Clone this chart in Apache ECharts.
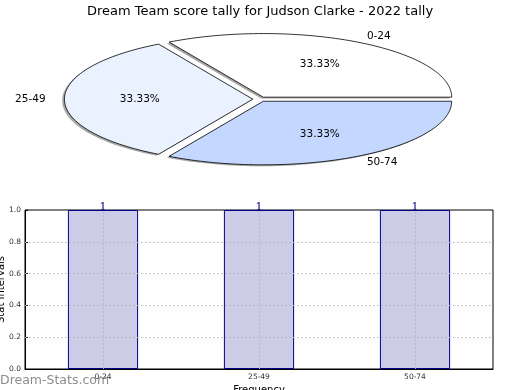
<!DOCTYPE html>
<html>
<head>
<meta charset="utf-8">
<script src="https://cdn.jsdelivr.net/npm/echarts@6/dist/echarts.min.js"></script>
<style>html,body{margin:0;padding:0;background:#fff}#c{width:520px;height:390px}</style>
</head>
<body>
<div id="c"></div>
<script>
const title = 'Dream Team score tally for Judson Clarke - 2022 tally';
const categories = ['0-24', '25-49', '50-74'];
const counts = [1, 1, 1];
const sliceColors = ['#ffffff', '#ebf2ff', '#c4d8ff'];
const yTicks = [0.2, 0.4, 0.6, 0.8];
const yAxisName = 'Stat Intervals';
const xAxisName = 'Frequency';
const watermark = 'Dream-Stats.com';

const EXPLODE = 0.037;
const FONT = 'DejaVu Sans';
const total = counts.reduce((a, b) => a + b, 0);

function sliceGeom(i) {
  let before = 0;
  for (let k = 0; k < i; k++) before += counts[k];
  const a0 = before / total * Math.PI * 2;
  const a1 = (before + counts[i]) / total * Math.PI * 2;
  const mid = (a0 + a1) / 2;
  return { a0, a1, mid, ox: EXPLODE * Math.cos(mid), oy: EXPLODE * Math.sin(mid) };
}

function wedgePoints(api, g, dx, dy) {
  const pts = [api.coord([g.ox + dx, g.oy + dy])];
  const steps = 80;
  for (let s = 0; s <= steps; s++) {
    const t = g.a0 + (g.a1 - g.a0) * s / steps;
    pts.push(api.coord([g.ox + dx + Math.cos(t), g.oy + dy + Math.sin(t)]));
  }
  return pts;
}

const pieData = categories.map((c, i) => [i, counts[i]]);

const chart = echarts.init(document.getElementById('c'), null, { renderer: 'canvas' });
chart.setOption({
  animation: false,
  backgroundColor: '#ffffff',
  title: {
    text: title, left: 'center', top: 0,
    textStyle: { fontFamily: FONT, fontSize: 13, fontWeight: 'normal', color: '#000' }
  },
  grid: [
    { left: 71.4, top: 35.6, width: 376.8, height: 127.2, show: false, outerBoundsMode: 'none', containLabel: false },
    { left: 25, right: 27, top: 210, bottom: 21, show: true, borderColor: '#000', borderWidth: 1,
      backgroundColor: 'transparent', outerBoundsMode: 'none', containLabel: false }
  ],
  xAxis: [
    { gridIndex: 0, type: 'value', min: -1, max: 1, show: false },
    {
      gridIndex: 1, type: 'category', data: categories, boundaryGap: true,
      axisLine: { show: true, lineStyle: { color: '#000', width: 1 } },
      axisTick: { show: false },
      splitLine: { show: false },
      axisLabel: { fontFamily: FONT, fontSize: 7.5, color: '#333', margin: 4 },
      name: xAxisName, nameLocation: 'middle', nameGap: 16.5, nameMoveOverlap: false,
      nameTextStyle: { fontFamily: FONT, fontSize: 10, color: '#000' }
    }
  ],
  yAxis: [
    { gridIndex: 0, type: 'value', min: -1, max: 1, show: false },
    {
      gridIndex: 1, type: 'value', min: 0, max: 1, interval: 0.2,
      axisLine: { show: true, lineStyle: { color: '#000', width: 1 } },
      axisTick: { show: true, inside: true, length: 3, lineStyle: { color: '#000' } },
      splitLine: { show: false },
      axisLabel: { fontFamily: FONT, fontSize: 7.5, color: '#333', margin: 4, formatter: v => v.toFixed(1) },
      name: yAxisName, nameLocation: 'middle', nameGap: 19, nameMoveOverlap: false,
      nameTextStyle: { fontFamily: FONT, fontSize: 10, color: '#000' }
    }
  ],
  graphic: [{
    type: 'text', left: 0, top: 374, z: 100,
    style: { text: watermark, fontFamily: FONT, fontSize: 12.5, fill: 'rgba(120,120,120,0.85)' }
  }],
  series: [
    {
      type: 'custom', xAxisIndex: 0, yAxisIndex: 0, data: pieData, clip: false, z: 1,
      renderItem: function (params, api) {
        const g = sliceGeom(params.dataIndex);
        return {
          type: 'polygon',
          shape: { points: wedgePoints(api, g, -0.012, -0.022) },
          style: { fill: 'rgba(77,77,77,0.5)', stroke: 'none' }
        };
      }
    },
    {
      type: 'custom', xAxisIndex: 0, yAxisIndex: 0, data: pieData, clip: false, z: 2,
      renderItem: function (params, api) {
        const i = params.dataIndex;
        const g = sliceGeom(i);
        const pct = api.value(1) / total * 100;
        const pp = api.coord([g.ox + 0.6 * Math.cos(g.mid), g.oy + 0.6 * Math.sin(g.mid)]);
        const lx = g.ox + 1.1 * Math.cos(g.mid);
        const lp = api.coord([lx, g.oy + 1.1 * Math.sin(g.mid)]);
        return {
          type: 'group',
          children: [
            {
              type: 'polygon',
              shape: { points: wedgePoints(api, g, 0, 0) },
              style: { fill: sliceColors[i], stroke: '#000', lineWidth: 0.8, lineJoin: 'miter' }
            },
            {
              type: 'text',
              style: { text: pct.toFixed(2) + '%', x: pp[0], y: pp[1], align: 'center', verticalAlign: 'middle',
                fontFamily: FONT, fontSize: 10.5, fill: '#000' }
            },
            {
              type: 'text',
              style: { text: categories[i], x: lp[0], y: lp[1], align: lx > 0 ? 'left' : 'right', verticalAlign: 'middle',
                fontFamily: FONT, fontSize: 10.5, fill: '#000' }
            }
          ]
        };
      }
    },
    {
      type: 'bar', xAxisIndex: 1, yAxisIndex: 1, data: counts, barWidth: '45%', z: 2,
      itemStyle: { color: '#ccccE6', borderColor: '#00008b', borderWidth: 1 },
      label: { show: true, position: 'top', distance: -3, color: '#00008b', fontFamily: 'DejaVu Serif', fontSize: 11 },
      markLine: {
        silent: true, symbol: 'none', z: 5,
        label: { show: false },
        lineStyle: { color: '#b4b4b4', type: [1.5, 2.5], width: 1 },
        data: yTicks.map(v => ({ yAxis: v })).concat(categories.map(c => ({ xAxis: c })))
      }
    }
  ]
});
</script>
</body>
</html>
